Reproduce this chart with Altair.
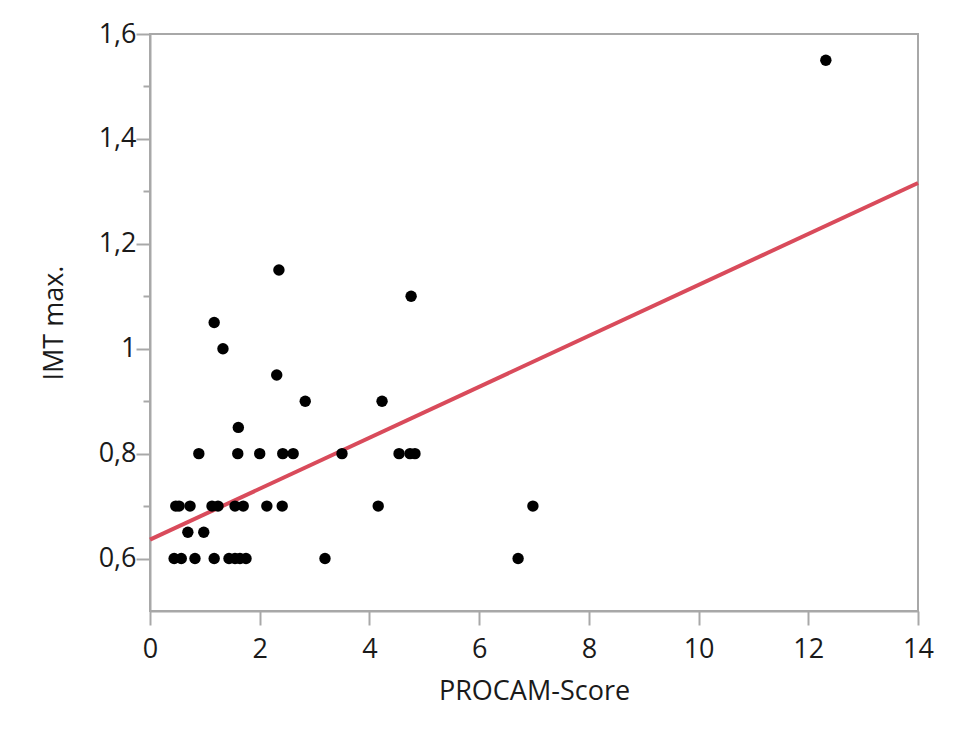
import altair as alt
import pandas as pd

# Scatter data
procam_score = [
    0.44, 0.57, 0.82, 1.17, 1.44, 1.55, 1.64, 1.75, 3.19, 6.71,
    0.69, 0.98,
    0.47, 0.53, 0.73, 1.13, 1.24, 1.55, 1.70, 2.13, 2.41, 4.16, 6.98,
    0.89, 1.60, 2.00, 2.42, 2.61, 3.50, 4.54, 4.74, 4.83,
    1.61, 2.83, 4.23, 2.31, 1.33, 1.17, 4.76, 2.35, 12.32,
]
imt_max = [
    0.6, 0.6, 0.6, 0.6, 0.6, 0.6, 0.6, 0.6, 0.6, 0.6,
    0.65, 0.65,
    0.7, 0.7, 0.7, 0.7, 0.7, 0.7, 0.7, 0.7, 0.7, 0.7, 0.7,
    0.8, 0.8, 0.8, 0.8, 0.8, 0.8, 0.8, 0.8, 0.8,
    0.85, 0.9, 0.9, 0.95, 1.0, 1.05, 1.1, 1.15, 1.55,
]

# Fitted line
fit_x = [0, 14]
fit_y = [0.636, 1.316]

# Axis ticks
x_ticks = [0, 2, 4, 6, 8, 10, 12, 14]
y_ticks = [0.6, 0.7, 0.8, 0.9, 1.0, 1.1, 1.2, 1.3, 1.4, 1.5, 1.6]

pts = pd.DataFrame({"x": procam_score, "y": imt_max})
fit = pd.DataFrame({"x": fit_x, "y": fit_y})

FONT = "Open Sans"
GRAY = "#a8a8a8"
TXT = "#1a1a1a"

x_enc = alt.X(
    "x:Q",
    scale=alt.Scale(domain=[0, 14], nice=False, zero=False),
    axis=alt.Axis(
        title="PROCAM-Score",
        values=x_ticks,
        format="d",
        tickSize=14,
        tickWidth=2,
        tickColor=GRAY,
        domainColor=GRAY,
        domainWidth=2,
        labelFont=FONT,
        labelFontSize=27,
        labelColor=TXT,
        labelPadding=11,
        labelFlush=False,
        titleFont=FONT,
        titleFontSize=27,
        titleFontWeight="normal",
        titleColor=TXT,
        titlePadding=16,
        grid=False,
    ),
)

y_enc = alt.Y(
    "y:Q",
    scale=alt.Scale(domain=[0.5, 1.6], nice=False, zero=False),
    axis=alt.Axis(
        title="IMT max.",
        values=y_ticks,
        labelExpr="(round(datum.value*10) % 2 == 0) ? replace(format(datum.value, '~g'), '.', ',') : ''",
        tickSize={"condition": {"test": "round(datum.value*10) % 2 == 0", "value": 14}, "value": 7},
        tickWidth=2,
        tickColor=GRAY,
        domainColor=GRAY,
        domainWidth=2,
        labelFont=FONT,
        labelFontSize=27,
        labelColor=TXT,
        labelPadding=0,
        labelFlush=False,
        titleFont=FONT,
        titleFontSize=27,
        titleFontWeight="normal",
        titleColor=TXT,
        titlePadding=30,
        grid=False,
    ),
)

points = alt.Chart(pts).mark_circle(size=130, color="black", opacity=1).encode(x=x_enc, y=y_enc)
line = alt.Chart(fit).mark_line(color="#d94b5b", strokeWidth=4).encode(x="x:Q", y="y:Q")

chart = (
    alt.layer(line, points)
    .properties(
        width=768,
        height=577,
        autosize=alt.AutoSizeParams(type="none"),
        padding={"left": 150, "top": 34, "right": 39, "bottom": 129},
        background="white",
    )
    .configure_view(stroke=GRAY, strokeWidth=2)
)

chart.save("out.html", embed_options={"renderer": "svg", "actions": False})
